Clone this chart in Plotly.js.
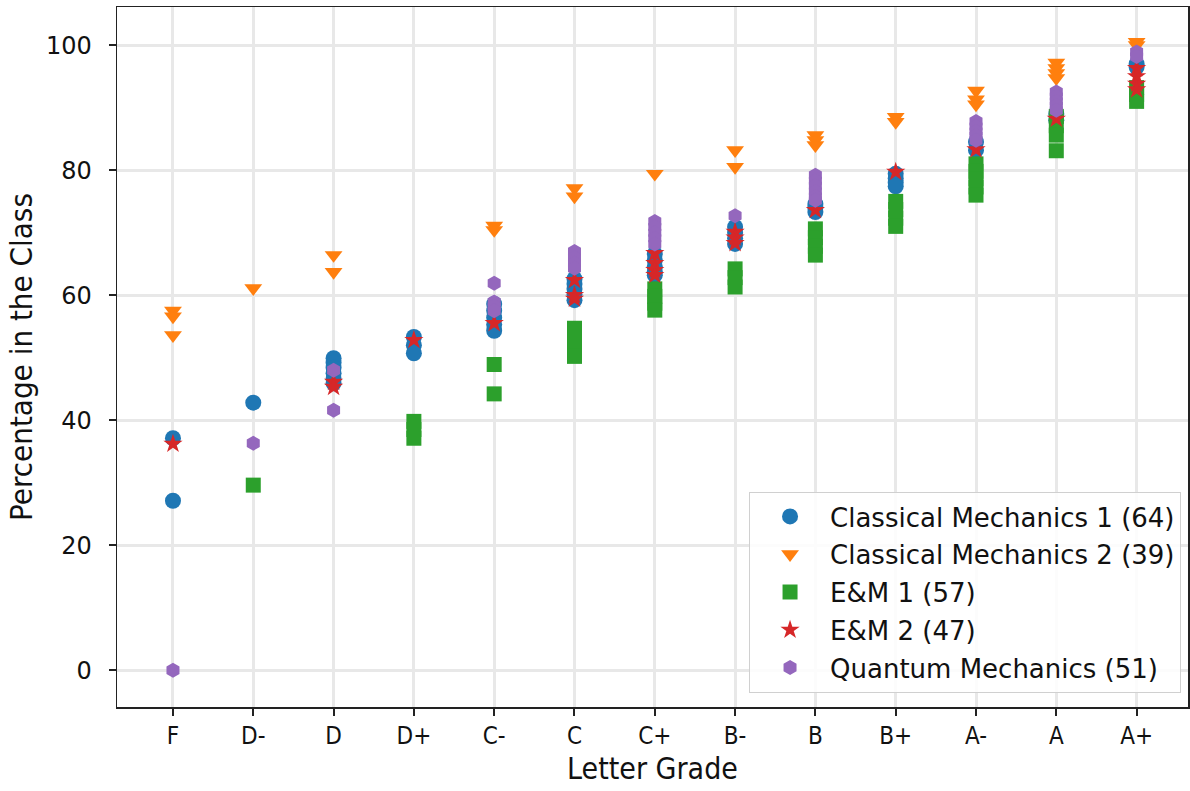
<!DOCTYPE html>
<html>
<head>
<meta charset="utf-8">
<script src="https://cdn.plot.ly/plotly-3.0.1.min.js"></script>
<style>
html,body{margin:0;padding:0;background:#fff;}
#chart{width:1190px;height:791px;}
</style>
</head>
<body>
<div id="chart"></div>
<script>
const grades = ['F','D-','D','D+','C-','C','C+','B-','B','B+','A-','A','A+'];

const cm1Grades = ['F','F','D-','D','D','D','D','D','D','D+','D+','D+','C-','C-','C-','C-','C-','C','C','C','C','C','C+','C+','C+','C+','C+','B-','B-','B-','B-','B','B','B','B+','B+','B+','B+','A-','A-','A','A','A+','A+'];
const cm1Values = [37.1,27.1,42.8,49.9,49.2,48.4,47.5,46.6,45.9,53.3,52.0,50.7,58.6,57.5,56.4,55.3,54.3,62.6,61.8,61.0,60.1,59.2,66.6,65.6,64.6,63.8,63.2,70.9,70.0,69.1,68.2,74.6,74.0,73.3,79.4,78.7,78.0,77.4,84.5,83.2,89.0,88.0,97.0,96.5];

const cm2Grades = ['F','F','F','D-','D','D','C-','C-','C','C','C+','B-','B-','B','B','B','B+','B+','A-','A-','A-','A','A','A','A','A+','A+'];
const cm2Values = [57.5,56.6,53.6,61.1,66.4,63.7,71.1,70.4,77.1,75.8,79.4,83.2,80.5,85.6,84.8,84.0,88.5,87.7,92.7,91.3,90.5,97.2,96.3,95.5,94.7,100.5,100.0];

const em1Grades = ['D-','D+','D+','D+','C-','C-','C','C','C','C','C+','C+','C+','C+','B-','B-','B-','B','B','B','B','B+','B+','B+','B+','A-','A-','A-','A-','A-','A','A','A','A','A+','A+','A+'];
const em1Values = [29.6,39.8,38.5,37.1,48.9,44.2,54.7,53.3,51.7,50.2,61.0,59.8,58.7,57.6,64.2,62.8,61.3,70.6,69.2,67.8,66.4,75.0,73.7,72.3,71.0,81.0,79.8,78.6,77.3,76.0,88.6,87.1,85.6,83.1,93.2,92.1,91.0];

const em2Grades = ['F','D','D','D+','C-','C','C','C','C+','C+','C+','C+','B-','B-','B-','B','B+','A-','A','A+','A+','A+','A+'];
const em2Values = [36.2,46.1,45.3,52.8,55.5,62.4,60.0,59.4,66.7,65.1,64.0,63.2,70.1,69.2,68.3,73.6,79.7,83.3,88.2,96.3,95.0,93.8,92.9];

const qmGrades = ['F','D-','D','D','C-','C-','C-','C-','C','C','C','C','C+','C+','C+','C+','C+','B-','B','B','B','B','B','B','A-','A-','A-','A-','A-','A','A','A','A','A','A+','A+'];
const qmValues = [0,36.3,48.0,41.6,61.9,58.9,58.2,57.5,67.0,66.0,65.1,64.3,71.8,70.9,70.0,69.1,68.2,72.7,79.2,78.3,77.5,76.6,75.8,75.2,87.8,87.0,86.2,85.5,84.8,92.5,91.8,91.0,90.3,89.6,98.9,98.2];

const seriesNames = ['Classical Mechanics 1 (64)','Classical Mechanics 2 (39)','E&M 1 (57)','E&M 2 (47)','Quantum Mechanics (51)'];
const seriesColors = ['#1f77b4','#ff7f0e','#2ca02c','#d62728','#9467bd'];

const specs = [
  [cm1Grades, cm1Values, 'circle', 16],
  [cm2Grades, cm2Values, 'triangle-down', 15.5],
  [em1Grades, em1Values, 'square', 15],
  [em2Grades, em2Values, 'star', 14.5],
  [qmGrades, qmValues, 'hexagon', 15]
];

const traces = specs.map((s, i) => ({
  type: 'scatter',
  mode: 'markers',
  x: s[0],
  y: s[1],
  name: seriesNames[i],
  legendgroup: 'g' + i,
  marker: {symbol: s[2], size: s[3], color: seriesColors[i], line: {width: 0}}
}));

const layout = {
  width: 1190,
  height: 791,
  margin: {l: 117, r: 2, t: 7, b: 84},
  paper_bgcolor: '#ffffff',
  plot_bgcolor: '#ffffff',
  showlegend: true,
  xaxis: {
    type: 'category',
    categoryorder: 'array',
    categoryarray: grades,
    range: [-0.697, 12.64],
    showgrid: true,
    gridcolor: '#e8e8e8',
    gridwidth: 3,
    zeroline: false,
    showline: true,
    linecolor: '#222',
    linewidth: 1.5,
    mirror: true,
    ticks: 'outside',
    ticklen: 7,
    tickwidth: 2,
    tickcolor: '#222',
    tickfont: {family: 'DejaVu Sans Condensed, DejaVu Sans', size: 24, color: '#111'},
    title: {text: 'Letter Grade', font: {family: 'DejaVu Sans Condensed, DejaVu Sans', size: 30, color: '#111'}, standoff: 8}
  },
  yaxis: {
    range: [-5.9, 106.1],
    tickvals: [0, 20, 40, 60, 80, 100],
    showgrid: true,
    gridcolor: '#e8e8e8',
    gridwidth: 3,
    zeroline: false,
    showline: true,
    linecolor: '#222',
    linewidth: 1.5,
    mirror: true,
    ticks: 'outside',
    ticklen: 7,
    tickwidth: 2,
    tickcolor: '#222',
    tickfont: {family: 'DejaVu Sans', size: 24, color: '#111'},
    ticklabelstandoff: 12,
    title: {text: 'Percentage in the Class', font: {family: 'DejaVu Sans Condensed, DejaVu Sans', size: 31, color: '#111'}, standoff: 4}
  },
  legend: {
    x: 0.9935,
    y: 0.02,
    xanchor: 'right',
    yanchor: 'bottom',
    bgcolor: 'rgba(255,255,255,0.85)',
    bordercolor: '#d0d0d0',
    borderwidth: 1,
    font: {family: 'DejaVu Sans', size: 26, color: '#111'},
    traceorder: 'grouped',
    tracegroupgap: 1,
    itemwidth: 70
  }
};

Plotly.newPlot('chart', traces, layout, {displayModeBar: false, staticPlot: true});
</script>
</body>
</html>
